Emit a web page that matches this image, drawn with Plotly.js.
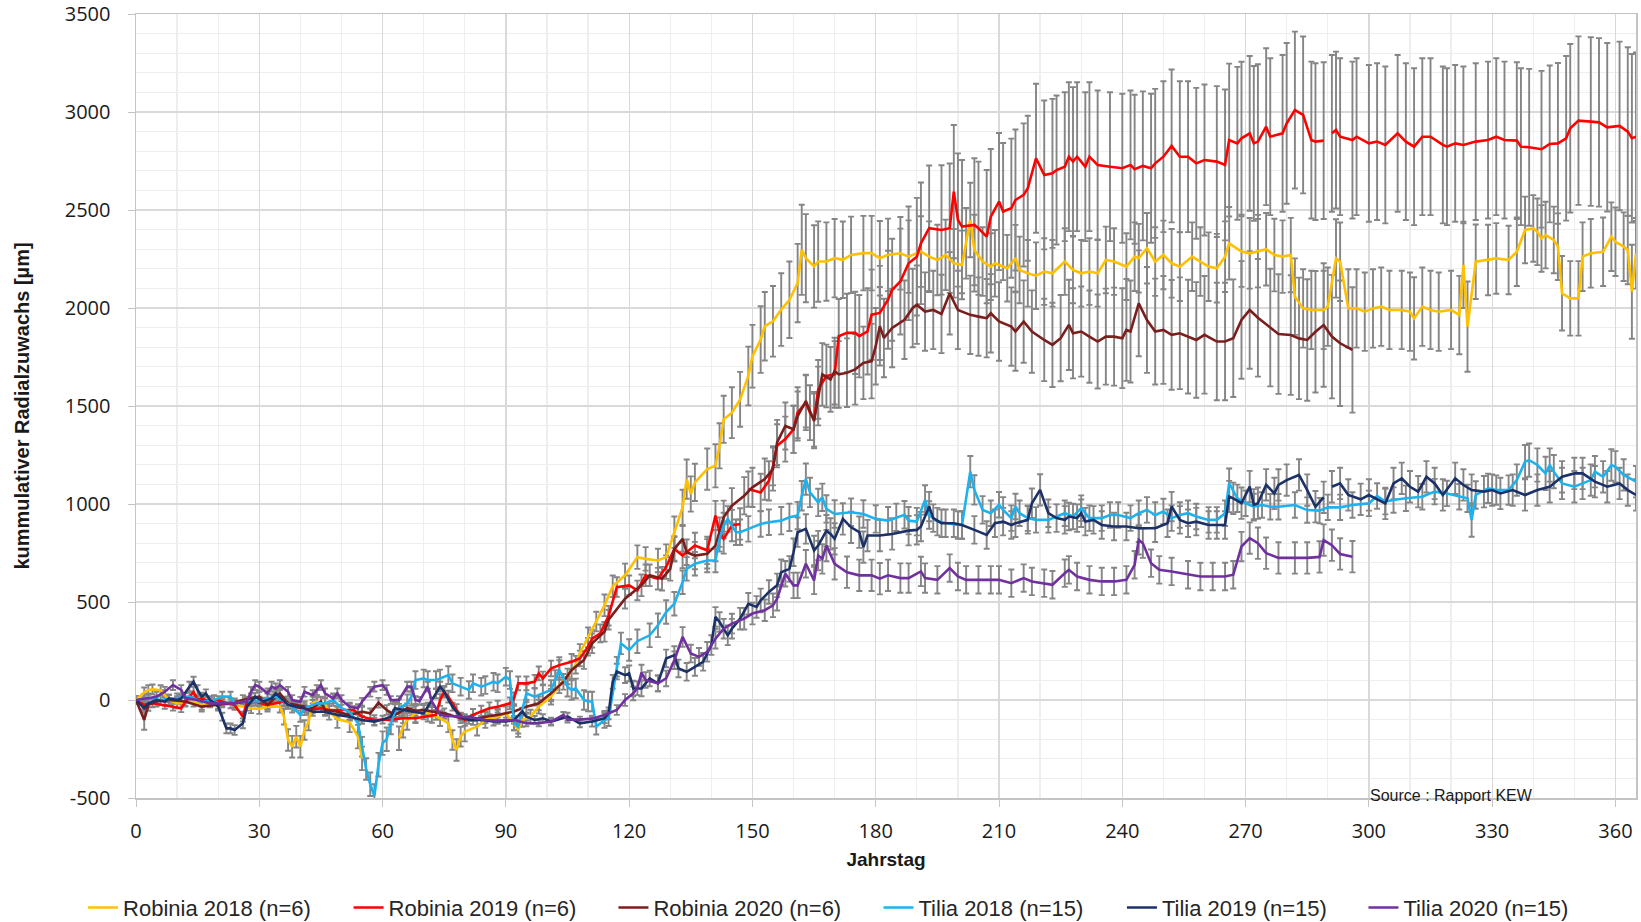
<!DOCTYPE html>
<html>
<head>
<meta charset="utf-8">
<script src="https://cdn.plot.ly/plotly-3.0.1.min.js"></script>
<style>
  html, body { margin: 0; padding: 0; background: #fff; }
  #chart { width: 1641px; height: 922px; }
</style>
</head>
<body>
<div id="chart"></div>
<script>
// [Jahrstag, kumulativer Radialzuwachs (µm), Standardabweichung]
var robinia2018 = [[0,0,20],[2,39,25],[3,51,25],[4,54,25],[6,50,25],[7,25,25],[8,0,25],[10,-17,25],[14,-9,25],[16,-25,25],[20,-20,25],[24,-25,25],[28,-42,25],[30,-46,25],[32,-34,25],[35,-34,30],[36,-85,40],[37,-204,55],[38,-238,55],[39,-187,55],[40,-238,55],[41,-153,50],[42,-110,45],[43,-17,35],[44,-8,30],[46,-20,30],[47,-60,40],[49,-97,45],[52,-114,50],[54,-187,60],[55,-298,60],[56,null,null],[64,-195,60],[65,-136,55],[66,-102,50],[68,-68,45],[70,-59,40],[72,-76,40],[74,-93,40],[76,-119,45],[77,-204,50],[78,-255,55],[79,-187,50],[80,-161,50],[83,-136,45],[85,-102,40],[88,-85,35],[90,-68,35],[92,-119,35],[93,-153,35],[94,-102,35],[96,-85,35],[98,-34,35],[101,17,40],[103,75,40],[105,120,40],[107,180,45],[108,240,45],[110,320,50],[112,400,50],[114,483,55],[116,580,55],[119,636,60],[122,729,60],[124,720,60],[127,712,60],[129,729,65],[131,856,80],[133,983,90],[134,1127,100],[135,1051,90],[136,1110,95],[139,1178,105],[141,1195,110],[142,1297,115],[143,1432,120],[145,1466,130],[147,1534,140],[149,1653,150],[150,1754,160],[152,1839,170],[153,1907,175],[155,1932,180],[157,1992,185],[159,2042,195],[161,2127,200],[162,2297,230],[163,2254,225],[165,2212,210],[166,2237,205],[168,2237,200],[170,2254,200],[172,2246,195],[174,2271,195],[177,2280,190],[179,2280,190],[181,2254,190],[183,2271,185],[186,2279,185],[188,2262,185],[191,2288,180],[193,2262,180],[195,2245,180],[197,2271,180],[199,2228,175],[201,2220,175],[202,2330,180],[203,2449,190],[204,2296,180],[206,2237,175],[208,2211,170],[209,2228,170],[212,2203,170],[214,2254,170],[215,2194,170],[217,2177,170],[219,2165,170],[221,2186,170],[223,2177,170],[226,2237,170],[228,2194,170],[230,2177,170],[232,2186,170],[234,2177,170],[236,2245,170],[238,2237,170],[241,2211,170],[243,2262,175],[244,2254,175],[246,2305,180],[248,2237,175],[250,2271,175],[252,2228,175],[254,2211,175],[257,2262,175],[259,2237,175],[261,2211,175],[263,2203,175],[265,2262,180],[266,2330,185],[269,2288,180],[271,2279,180],[273,2290,185],[275,2300,185],[277,2270,185],[279,2262,185],[281,2270,190],[282,2058,195],[284,1998,200],[286,1990,200],[289,1990,200],[290,2007,200],[292,2253,200],[293,2236,200],[295,1998,200],[297,1998,200],[299,1981,200],[301,1998,200],[303,2007,200],[305,1990,200],[308,1990,200],[310,1981,200],[311,1947,210],[313,2007,200],[315,1990,200],[317,1981,200],[320,1990,200],[322,1964,200],[323,2220,220],[324,1905,230],[326,2236,190],[329,2245,180],[331,2253,180],[334,2245,175],[336,2287,175],[338,2398,170],[340,2406,170],[341,2389,170],[342,2355,170],[343,2372,170],[345,2347,170],[346,2313,170],[347,2075,190],[349,2049,190],[351,2049,190],[352,2262,175],[354,2279,175],[357,2287,175],[359,2364,175],[360,2338,175],[362,2313,175],[363,2296,175],[364,2083,240],[365,2279,180]];

var robinia2019 = [[0,0,20],[2,-25,20],[4,-17,20],[7,-25,20],[9,-34,20],[11,-42,20],[12,-10,20],[14,42,25],[15,0,20],[16,8,20],[18,-9,20],[20,0,20],[21,-9,20],[24,-25,20],[26,-85,25],[27,-10,20],[29,-9,20],[32,-25,20],[36,-9,20],[39,-34,20],[42,-51,20],[45,-42,20],[47,-51,20],[49,-51,20],[53,-51,20],[55,-85,25],[58,-102,25],[62,-100,25],[65,-93,25],[68,-93,25],[71,-85,25],[73,-76,25],[74,0,30],[75,42,30],[76,17,30],[78,-51,30],[80,-102,30],[82,-76,30],[84,-59,30],[86,-42,30],[88,-34,30],[91,-17,30],[92,8,30],[93,85,35],[95,85,35],[97,93,35],[98,136,35],[99,110,35],[101,161,40],[103,178,40],[106,195,40],[108,212,40],[110,272,45],[111,313,45],[113,340,45],[115,430,50],[117,576,50],[120,585,50],[122,559,50],[124,636,55],[127,619,55],[129,678,60],[131,771,60],[133,737,65],[136,788,65],[139,763,70],[141,941,75],[142,856,75],[143,822,75],[145,890,80],[147,898,80],[148,null,null],[149,1076,90],[152,1059,95],[154,1118,100],[155,1195,100],[156,1297,110],[158,1331,115],[160,1381,120],[161,1466,130],[163,1517,140],[164,1466,140],[165,1432,140],[166,1585,150],[168,1653,160],[170,1661,170],[171,1856,190],[173,1873,200],[175,1873,210],[176,1856,210],[178,1881,220],[179,1966,230],[181,1975,240],[183,2042,250],[184,2093,260],[186,2135,270],[188,2228,290],[190,2262,300],[191,2330,310],[193,2407,320],[196,2398,330],[198,2407,330],[199,2594,340],[200,2449,340],[201,2415,340],[204,2424,340],[205,2407,340],[207,2364,340],[208,2466,345],[210,2543,350],[211,2492,350],[213,2509,355],[214,2551,360],[216,2577,365],[217,2611,370],[219,2764,380],[221,2679,380],[223,2687,380],[224,2704,380],[226,2721,380],[227,2772,380],[228,2747,380],[229,2772,380],[231,2721,380],[232,2772,380],[234,2730,380],[237,2721,380],[240,2713,380],[242,2730,380],[243,2708,380],[245,2725,380],[247,2713,380],[248,2738,380],[250,2772,385],[252,2827,390],[254,2772,385],[256,2772,385],[258,2738,385],[260,2755,385],[263,2747,385],[265,2730,385],[266,2857,390],[268,2840,390],[269,2866,390],[271,2891,395],[272,2840,395],[273,2849,395],[275,2925,400],[276,2874,400],[279,2891,400],[280,2942,410],[282,3010,400],[284,2985,400],[286,2857,400],[287,2849,400],[289,2854,400],[290,null,null],[291,2891,400],[292,2908,400],[293,2874,400],[296,2857,400],[297,2874,400],[300,2840,400],[302,2849,400],[304,2832,400],[307,2891,400],[309,2849,400],[311,2823,400],[313,2874,400],[315,2874,400],[318,2832,400],[319,2823,400],[321,2840,400],[323,2832,400],[326,2849,400],[329,2857,400],[331,2874,400],[333,2857,400],[336,2854,400],[337,2823,400],[339,2820,400],[342,2810,400],[344,2837,400],[346,2840,410],[348,2866,420],[349,2917,430],[351,2956,430],[354,2951,430],[356,2947,430],[358,2922,430],[361,2929,430],[363,2900,430],[364,2866,430],[365,2874,430]];

var robinia2020 = [[0,0,20],[2,-102,50],[3,-25,30],[5,-8,25],[8,0,25],[12,-8,25],[16,-34,25],[20,-25,25],[23,-17,25],[26,0,25],[28,8,25],[30,17,25],[32,-25,25],[35,34,25],[37,-17,25],[41,-34,25],[43,-42,25],[45,-8,25],[46,-51,25],[49,-60,25],[52,-76,25],[55,-60,25],[57,-68,25],[59,-14,25],[61,-51,25],[63,-76,25],[66,-42,25],[68,-55,25],[70,-51,25],[72,-59,25],[75,-68,25],[79,-93,25],[82,-102,25],[85,-85,25],[88,-76,30],[92,-59,30],[95,-34,35],[98,-17,35],[101,34,40],[104,93,40],[106,153,45],[109,204,45],[111,289,50],[114,348,50],[115,410,50],[119,517,50],[123,585,55],[125,636,55],[128,619,60],[130,669,60],[131,771,65],[133,822,65],[134,754,65],[136,737,70],[139,746,75],[141,788,80],[143,932,85],[145,991,90],[148,1042,95],[150,1085,100],[153,1127,105],[155,1178,110],[156,1314,115],[158,1398,120],[160,1381,120],[161,1449,125],[163,1525,135],[165,1424,140],[166,1551,150],[167,1661,160],[169,1636,165],[170,1678,170],[171,1661,170],[173,1670,175],[175,1687,180],[177,1720,185],[179,1729,190],[180,1805,195],[181,1907,200],[182,1847,200],[184,1898,200],[187,1940,200],[189,2000,200],[190,2017,200],[192,1982,200],[194,1990,200],[196,1970,200],[198,2075,210],[200,1990,200],[203,1965,200],[205,1956,200],[207,1948,200],[208,1973,200],[210,1931,200],[213,1905,200],[214,1880,200],[216,1931,210],[218,1880,210],[221,1837,210],[223,1812,215],[225,1846,220],[227,1914,230],[228,1871,230],[230,1880,230],[232,1854,235],[234,1829,240],[236,1854,245],[238,1854,250],[240,1846,255],[241,1888,260],[242,1880,260],[244,2024,270],[246,1939,270],[248,1880,270],[250,1888,275],[252,1863,280],[254,1871,285],[256,1854,290],[258,1837,295],[260,1863,300],[263,1829,300],[265,1829,300],[267,1846,300],[269,1939,300],[271,1990,300],[273,1950,300],[276,1900,300],[278,1867,305],[281,1862,305],[283,1845,310],[285,1837,310],[287,1879,310],[289,1913,315],[291,1854,315],[293,1820,320],[296,1786,320]];

var tilia2018 = [[0,0,20],[3,8,25],[6,0,25],[10,8,25],[13,17,25],[16,-9,25],[19,0,25],[21,17,25],[23,17,25],[24,-17,25],[27,-8,25],[30,-8,25],[32,8,25],[34,17,25],[36,-8,25],[38,-34,30],[40,-76,35],[41,-42,35],[44,-17,30],[46,-17,30],[48,0,30],[50,-42,35],[52,-60,40],[54,-119,45],[55,-238,50],[56,-352,55],[57,-430,60],[58,-490,60],[59,-330,60],[60,-220,60],[61,-200,60],[62,-120,55],[63,-60,50],[64,-42,45],[66,-17,45],[67,17,45],[68,102,45],[70,110,45],[71,102,45],[73,102,45],[74,110,45],[76,127,45],[77,85,45],[79,68,45],[81,51,45],[82,85,45],[84,68,45],[85,76,45],[87,93,45],[88,85,45],[90,119,45],[91,102,45],[92,-119,35],[93,-136,35],[95,34,45],[97,17,45],[99,34,45],[101,51,50],[102,102,50],[103,153,50],[105,68,50],[106,51,50],[107,59,50],[109,0,50],[110,-8,50],[111,-8,50],[112,-136,40],[114,-102,40],[115,-93,40],[117,170,50],[118,289,55],[120,255,55],[122,300,60],[125,330,60],[127,381,60],[129,449,60],[131,491,60],[133,601,60],[134,669,60],[136,695,60],[139,712,60],[141,712,60],[142,822,65],[143,890,65],[144,924,65],[146,856,65],[147,856,65],[149,873,65],[152,898,65],[154,907,65],[157,915,70],[159,932,70],[161,941,70],[162,1042,75],[163,1127,80],[164,1059,75],[166,1008,70],[167,1034,70],[168,975,70],[170,949,70],[174,958,70],[177,949,70],[180,924,70],[183,915,70],[185,932,70],[187,945,70],[188,915,70],[190,910,70],[192,1021,75],[193,944,70],[195,910,70],[197,902,70],[200,893,70],[201,893,70],[203,1165,80],[204,1072,75],[206,970,70],[208,953,65],[210,996,65],[211,970,65],[213,928,65],[214,987,65],[215,953,65],[217,928,65],[219,919,65],[222,919,65],[226,953,65],[228,936,65],[230,979,65],[232,928,65],[235,928,65],[237,944,65],[239,944,65],[242,928,65],[244,953,65],[246,970,65],[248,944,65],[250,962,65],[252,928,65],[254,944,65],[256,953,65],[258,936,65],[261,919,65],[263,919,65],[265,953,65],[266,1106,75],[268,1029,70],[270,1004,65],[272,987,65],[274,995,65],[276,986,65],[278,986,65],[282,995,65],[285,969,65],[288,966,65],[290,983,65],[293,983,65],[296,995,65],[300,1003,65],[302,1041,65],[304,1012,65],[306,1020,65],[309,1029,65],[313,1037,65],[316,1063,65],[319,1054,65],[322,1037,65],[324,1029,70],[325,918,85],[326,1046,70],[329,1080,75],[331,1071,75],[334,1071,75],[336,1122,80],[338,1216,85],[339,1224,85],[341,1199,85],[343,1156,85],[344,1199,85],[345,1165,85],[347,1105,80],[350,1088,80],[352,1105,80],[354,1122,80],[355,1165,80],[357,1139,80],[359,1199,80],[360,1190,80],[362,1148,80],[365,1114,80]];

var tilia2019 = [[0,0,20],[2,-42,20],[3,-17,20],[5,0,20],[7,-8,20],[8,8,20],[10,0,20],[11,8,20],[13,68,25],[14,94,25],[15,51,25],[16,17,20],[17,34,20],[18,0,20],[20,-34,20],[21,-85,20],[22,-145,25],[23,-145,25],[24,-153,25],[26,-119,25],[27,-34,20],[28,-8,20],[29,17,20],[31,-8,20],[33,8,20],[34,34,20],[36,-8,20],[37,-25,20],[39,-34,20],[41,-42,20],[43,-60,20],[46,-60,20],[49,-76,20],[52,-85,20],[55,-102,20],[58,-110,20],[60,-100,20],[62,-85,20],[63,-42,20],[65,-51,20],[67,-59,20],[70,-68,20],[71,-34,20],[73,34,25],[74,68,25],[75,42,25],[77,-34,20],[79,-85,20],[81,-102,20],[84,-102,20],[87,-110,20],[90,-110,20],[92,-102,20],[94,-59,20],[95,-85,20],[97,-102,20],[99,-93,20],[101,-110,20],[105,-85,20],[108,-119,20],[111,-110,25],[114,-93,25],[115,-68,30],[116,93,35],[117,145,40],[119,127,40],[120,136,40],[121,59,40],[123,59,40],[125,110,40],[127,85,40],[129,212,45],[131,229,45],[132,161,45],[134,144,45],[136,169,45],[138,195,45],[140,280,50],[141,424,50],[142,398,50],[144,330,50],[145,364,50],[147,415,55],[149,491,55],[151,475,55],[152,508,60],[154,551,60],[156,585,60],[157,652,65],[159,669,65],[160,754,70],[161,856,75],[163,873,75],[165,763,75],[166,788,75],[168,864,80],[169,847,80],[170,822,80],[172,924,80],[174,881,80],[176,856,80],[177,780,80],[178,839,80],[181,839,80],[184,847,80],[188,864,75],[190,868,75],[191,885,75],[193,987,75],[194,928,70],[196,902,70],[199,902,70],[201,893,70],[204,868,70],[207,842,70],[209,902,70],[211,910,70],[213,893,70],[214,902,70],[217,919,70],[218,1004,75],[220,1072,80],[222,953,70],[224,928,70],[226,919,70],[227,936,70],[229,928,70],[230,953,70],[231,910,70],[233,919,70],[235,893,70],[238,885,70],[241,885,70],[244,876,70],[248,876,70],[251,902,70],[252,987,75],[254,919,70],[256,902,70],[258,910,70],[261,893,70],[263,893,70],[265,893,70],[266,1038,80],[267,1029,80],[269,1004,80],[271,1089,80],[272,996,80],[273,1004,80],[275,1098,80],[277,1054,80],[278,1097,80],[280,1122,80],[283,1148,80],[285,1071,80],[287,986,80],[289,1034,80],[290,null,null],[291,1088,80],[293,1105,80],[295,1046,80],[298,1024,80],[300,1046,80],[304,1003,80],[306,1105,80],[308,1131,80],[310,1088,80],[312,1063,80],[314,1139,80],[316,1105,80],[318,1046,80],[321,1131,80],[323,1097,80],[325,1071,80],[328,1063,80],[330,1071,80],[332,1054,80],[335,1071,80],[338,1046,80],[341,1071,80],[344,1088,80],[347,1139,80],[350,1156,80],[352,1156,80],[355,1114,80],[358,1088,80],[361,1105,80],[363,1071,80],[365,1046,80]];

var tilia2020 = [[0,0,20],[2,8,20],[5,17,25],[7,42,25],[9,76,25],[11,51,25],[12,10,25],[15,0,20],[18,-17,20],[21,-17,20],[24,-17,20],[27,-9,20],[28,42,25],[29,76,25],[30,68,25],[32,34,25],[33,68,25],[34,59,25],[35,76,25],[37,42,25],[38,0,25],[40,-9,25],[41,42,25],[43,25,25],[44,51,25],[45,76,25],[46,34,25],[48,8,25],[49,34,25],[50,0,25],[52,-34,20],[54,-42,20],[55,-9,20],[57,42,25],[58,68,25],[60,76,25],[61,51,25],[62,0,20],[64,0,20],[66,68,25],[67,68,25],[68,0,20],[69,-5,20],[71,68,25],[72,-8,20],[74,-76,20],[75,-80,15],[79,-85,15],[82,-90,15],[85,-102,15],[88,-105,15],[92,-102,15],[95,-119,15],[98,-119,15],[101,-110,15],[104,-76,15],[105,-100,15],[108,-100,15],[111,-95,15],[114,-76,20],[117,-51,25],[119,0,30],[121,34,35],[122,60,35],[123,140,40],[124,102,40],[127,85,40],[129,110,40],[131,203,45],[133,322,50],[135,237,45],[137,220,45],[139,246,50],[141,313,50],[143,364,50],[145,390,50],[148,415,55],[150,441,55],[153,458,55],[155,483,60],[156,517,60],[158,644,65],[160,585,65],[161,585,65],[163,695,70],[165,610,70],[166,737,75],[167,720,75],[168,788,80],[170,695,80],[173,652,80],[176,636,80],[179,636,80],[181,619,80],[183,636,80],[186,622,75],[188,622,75],[191,656,75],[192,622,75],[195,613,70],[198,673,70],[200,630,70],[202,613,70],[205,613,70],[208,613,70],[210,613,70],[213,596,70],[216,622,70],[218,605,70],[221,596,70],[223,588,70],[226,647,70],[227,664,70],[229,630,70],[232,613,70],[235,605,70],[238,605,70],[241,613,70],[243,690,70],[244,817,75],[245,800,75],[247,698,70],[249,664,70],[252,656,70],[256,639,70],[259,630,70],[262,630,70],[265,630,70],[267,639,70],[269,783,75],[271,826,80],[273,800,80],[275,749,80],[278,725,80],[282,725,80],[285,725,80],[288,730,80],[289,816,80],[291,790,80],[293,745,80],[296,731,80]];

var seriesNames = ['Robinia 2018 (n=6)', 'Robinia 2019 (n=6)', 'Robinia 2020 (n=6)',
                   'Tilia 2018 (n=15)', 'Tilia 2019 (n=15)', 'Tilia 2020 (n=15)'];
var seriesData = [robinia2018, robinia2019, robinia2020, tilia2018, tilia2019, tilia2020];
var seriesColors = ['#FFC000', '#FF0000', '#7B1E1E', '#1DB2EE', '#1B3168', '#7030A0'];

var yTickVals = [-500, 0, 500, 1000, 1500, 2000, 2500, 3000, 3500];
var yTickText = ['-500', '0', '500', '1000', '1500', '2000', '2500', '3000', '3500'];

var legendX = [-0.0353, 0.1417, 0.3183, 0.4950, 0.6573, 0.8183];

var col = function (arr, i) { return arr.map(function (p) { return p[i]; }); };

var data = [];

// error bars first so that they sit behind every line
seriesData.forEach(function (s) {
  data.push({
    x: col(s, 0),
    y: col(s, 1),
    type: 'scatter',
    mode: 'markers',
    marker: { opacity: 0, size: 1 },
    error_y: { type: 'data', array: col(s, 2), visible: true, color: '#858585', thickness: 1.9, width: 3 },
    showlegend: false,
    hoverinfo: 'skip'
  });
});

seriesData.forEach(function (s, i) {
  data.push({
    x: col(s, 0),
    y: col(s, 1),
    type: 'scatter',
    mode: 'lines',
    name: seriesNames[i],
    connectgaps: false,
    line: { color: seriesColors[i], width: 2.6 },
    legend: i === 0 ? 'legend' : 'legend' + (i + 1)
  });
});

var legendBase = {
  orientation: 'h',
  y: -0.140,
  yanchor: 'middle',
  xanchor: 'left',
  bgcolor: 'rgba(0,0,0,0)',
  font: { family: 'Liberation Sans, Arial, sans-serif', size: 22, color: '#262626' }
};

var layout = {
  width: 1641,
  height: 922,
  margin: { l: 136, r: 5, t: 14, b: 124, autoexpand: false },
  paper_bgcolor: '#ffffff',
  plot_bgcolor: '#ffffff',
  showlegend: true,
  xaxis: {
    range: [0, 365],
    tickmode: 'linear',
    tick0: 0,
    dtick: 30,
    showgrid: true,
    gridcolor: '#d9d9d9',
    gridwidth: 1.3,
    minor: { dtick: 10, showgrid: true, gridcolor: '#eeeeee', gridwidth: 1.3 },
    showline: true,
    linecolor: '#c4c4c4',
    linewidth: 1.5,
    mirror: true,
    ticks: 'outside',
    ticklen: 7,
    tickcolor: '#c4c4c4',
    zeroline: false,
    ticklabelstandoff: 7,
    tickfont: { family: 'Open Sans, sans-serif', size: 20, color: '#1a1a1a' },
    title: { text: '<b>Jahrstag</b>', standoff: 10,
             font: { family: 'Liberation Sans, Arial, sans-serif', size: 19, color: '#1a1a1a' } }
  },
  yaxis: {
    range: [-500, 3500],
    tickmode: 'array',
    tickvals: yTickVals,
    ticktext: yTickText,
    showgrid: true,
    gridcolor: '#d9d9d9',
    gridwidth: 1.3,
    minor: { dtick: 100, showgrid: true, gridcolor: '#eeeeee', gridwidth: 1.3 },
    showline: true,
    linecolor: '#c4c4c4',
    linewidth: 1.5,
    mirror: true,
    ticks: 'outside',
    ticklen: 7,
    tickcolor: '#c4c4c4',
    zeroline: false,
    ticklabelstandoff: 13,
    tickfont: { family: 'Open Sans, sans-serif', size: 20, color: '#1a1a1a' },
    title: { text: '<b>kummulativer Radialzuwachs [µm]</b>', standoff: 30,
             font: { family: 'Liberation Sans, Arial, sans-serif', size: 20, color: '#1a1a1a' } }
  },
  annotations: [{
    text: 'Source : Rapport KEW',
    xref: 'paper', yref: 'paper',
    x: 0.877, y: 0.003,
    xanchor: 'center', yanchor: 'middle',
    showarrow: false,
    font: { family: 'Liberation Sans, Arial, sans-serif', size: 16, color: '#1a1a1a' }
  }]
};

legendX.forEach(function (lx, i) {
  var key = i === 0 ? 'legend' : 'legend' + (i + 1);
  layout[key] = Object.assign({}, legendBase, { x: lx });
});

Plotly.newPlot('chart', data, layout, { displayModeBar: false, staticPlot: true });
</script>
</body>
</html>
